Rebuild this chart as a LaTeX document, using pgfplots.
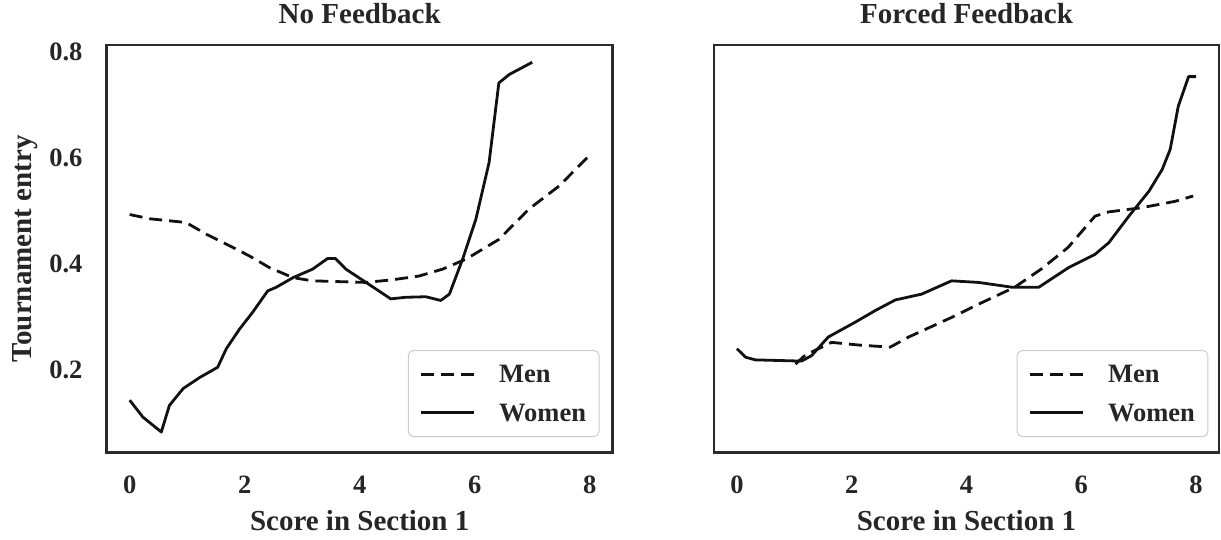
\documentclass[border=0pt]{standalone}
\usepackage{fontspec}
\setmainfont{Liberation Serif}
\usepackage{pgfplots}
\pgfplotsset{compat=1.18}
\definecolor{txt}{HTML}{262626}
\definecolor{frm}{HTML}{2B2B2B}
\definecolor{ln}{HTML}{111111}
\pgfplotsset{
  panel/.style={
    scale only axis, width=506pt, height=407.7pt,
    xmin=-0.4, xmax=8.4, ymin=0.044, ymax=0.8126,
    xtick={0,2,4,6,8}, ytick={0.2,0.4,0.6,0.8},
    major tick length=0pt, minor tick num=0,
    axis line style={frm, line width=2.6pt},
    tick label style={font=\fontsize{26.5}{30}\selectfont\bfseries, text=txt},
    /pgf/number format/assume math mode=true,
    yticklabel style={/pgf/number format/fixed, /pgf/number format/precision=1, /pgf/number format/fixed zerofill, anchor=east, inner sep=0pt, xshift=-24pt},
    xticklabel style={anchor=north, inner sep=0pt, yshift=-23pt},
    label style={font=\fontsize{29}{32}\selectfont\bfseries, text=txt},
    title style={font=\fontsize{29}{32}\selectfont\bfseries, text=txt, at={(axis description cs:0.5,1.039)}, anchor=base},
    xlabel style={at={(axis description cs:0.5,-0.1913)}, anchor=base},
    ylabel style={at={(axis description cs:-0.148,0.5)}, anchor=base, rotate=0},
    legend image code/.code={\draw[##1] (0pt,0pt) -- (53pt,0pt);},
    legend cell align=left,
    every axis plot/.append style={ln, line width=2.8pt, line join=round},
  },
  dsh/.style={ln, no markers, dash pattern=on 13pt off 7pt},
  sld/.style={ln, no markers, solid},
  lgd/.style={legend style={at={(axis description cs:#1,0.0385)}, anchor=south east,
    draw=black!20, line width=1pt, rounded corners=5pt, fill=white,
    font=\fontsize{26.5}{30}\selectfont\bfseries, text=txt,
    inner xsep=11pt, inner ysep=12pt, row sep=15pt, column sep=22pt,
    cells={text height=18pt, text depth=0pt, inner sep=0pt}}},
}
\begin{document}
\begin{tikzpicture}
\useasboundingbox (0,0) rectangle (1221pt,539pt);
\begin{axis}[panel, at={(106.7pt,86.3pt)}, anchor=south west,
  title={No Feedback}, xlabel={Score in Section 1}, ylabel={Tournament entry},
  lgd=0.974]
\addplot[dsh] coordinates {
(0,0.493) (0.35,0.485) (0.98,0.478) (1.33,0.456) (1.74,0.434) (2.08,0.415)
(2.43,0.393) (2.84,0.374) (3.18,0.368) (4.11,0.365) (4.57,0.370) (5.03,0.377)
(5.44,0.390) (5.85,0.409) (6.42,0.446) (6.94,0.503) (7.47,0.547) (7.99,0.604)};
\addlegendentry{Men}
\addplot[sld] coordinates {
(0,0.143) (0.23,0.111) (0.55,0.083) (0.69,0.133) (0.93,0.165) (1.22,0.186)
(1.53,0.205) (1.68,0.240) (1.91,0.277) (2.14,0.309) (2.40,0.349) (2.55,0.356)
(2.84,0.374) (3.18,0.390) (3.44,0.410) (3.58,0.410) (3.76,0.390) (4.11,0.365)
(4.54,0.334) (4.80,0.337) (5.15,0.338) (5.41,0.331) (5.56,0.343) (5.79,0.409)
(6.02,0.484) (6.25,0.591) (6.42,0.741) (6.60,0.757) (7.00,0.780)};
\addlegendentry{Women}
\end{axis}
\begin{axis}[panel, at={(714pt,86.3pt)}, anchor=south west, width=505pt,
  title={Forced Feedback}, xlabel={Score in Section 1}, yticklabels={},
  lgd=0.979]
\addplot[dsh] coordinates {
(1.02,0.211) (1.19,0.228) (1.65,0.252) (2.12,0.247) (2.67,0.243) (2.99,0.262)
(3.74,0.299) (4.21,0.324) (4.84,0.356) (5.30,0.390) (5.77,0.431) (6.24,0.490)
(6.48,0.498) (7.06,0.506) (7.64,0.518) (7.95,0.528)};
\addlegendentry{Men}
\addplot[sld] coordinates {
(0,0.240) (0.15,0.224) (0.32,0.219) (1.02,0.217) (1.13,0.217) (1.30,0.227)
(1.59,0.262) (2.06,0.290) (2.41,0.312) (2.76,0.332) (3.22,0.343) (3.74,0.368)
(4.21,0.365) (4.79,0.356) (5.26,0.356) (5.78,0.393) (6.24,0.418) (6.48,0.440)
(6.83,0.490) (7.18,0.537) (7.41,0.578) (7.55,0.616) (7.69,0.697) (7.87,0.753)
(8.00,0.753)};
\addlegendentry{Women}
\end{axis}
\end{tikzpicture}
\end{document}
